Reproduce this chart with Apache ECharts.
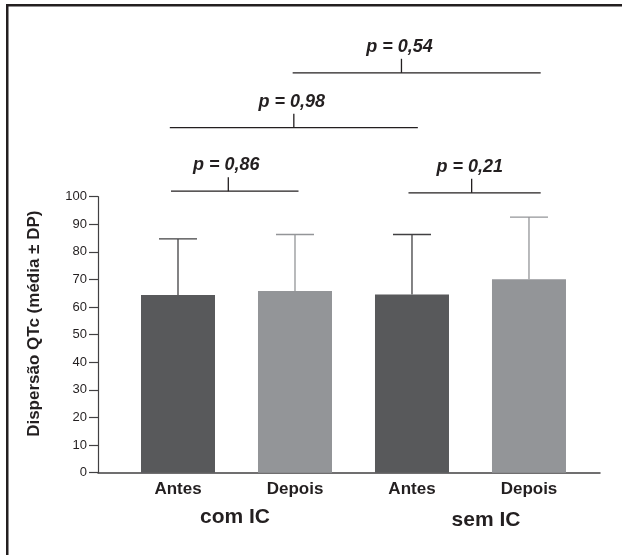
<!DOCTYPE html>
<html><head><meta charset="utf-8">
<script src="https://cdn.jsdelivr.net/npm/echarts@6/dist/echarts.min.js"></script>
<style>html,body{margin:0;padding:0;background:#fff}#c{width:622px;height:555px}</style>
</head><body><div id="c"></div>
<script>
// ---- data ----
const categories = ['Antes', 'Depois', 'Antes', 'Depois'];
const groupLabels = ['com IC', 'sem IC'];
const means = [64.4, 65.8, 64.6, 70.1];
const sds = [20.3, 20.5, 21.7, 22.5];
const yAxisTitle = 'Dispersão QTc (média ± DP)';
const pLabels = ['p = 0,86', 'p = 0,21', 'p = 0,98', 'p = 0,54'];
const bracketStart = [-0.06, 1.97, -0.07, 0.98];
const bracketEnd = [1.03, 3.10, 2.05, 3.10];
const bracketTick = [0.43, 2.51, 0.99, 1.91];
const bracketLevel = [102.0, 101.4, 125.0, 144.9];

const darkC = '#58595b', lightC = '#939598', ink = '#231f20', axisC = '#414042';
const font = 'Liberation Sans, Arial, sans-serif';

const chart = echarts.init(document.getElementById('c'), null, {renderer: 'canvas'});

const barData = means.map((m, i) => [i, m]);
const errData = means.map((m, i) => [i, m, m + sds[i]]);
const brData = pLabels.map((p, i) => [bracketStart[i], bracketLevel[i], bracketEnd[i], bracketTick[i], i]);

const option = {
  backgroundColor: '#fff',
  animation: false,
  grid: {left: 98, right: 22, top: 196.7, bottom: 82.3, containLabel: false},
  xAxis: {
    type: 'value', min: -0.6838, max: 3.607,
    splitLine: {show: false},
    axisTick: {show: false},
    axisLine: {show: true, onZero: false, lineStyle: {color: axisC, width: 1.5}},
    axisLabel: {
      show: true, margin: 8, fontSize: 17, fontWeight: 'bold', color: ink, fontFamily: font,
      showMinLabel: true, showMaxLabel: true,
      formatter: v => (Math.abs(v - Math.round(v)) < 1e-6 && categories[Math.round(v)] !== undefined) ? categories[Math.round(v)] : ''
    }
  },
  yAxis: {
    type: 'value', min: 0, max: 100, interval: 10,
    splitLine: {show: false},
    axisLine: {show: true, onZero: false, lineStyle: {color: axisC, width: 1.2}},
    axisTick: {show: true, length: 9, lineStyle: {color: axisC, width: 1.2}},
    axisLabel: {margin: 11, fontSize: 13, color: ink, fontFamily: font},
    name: yAxisTitle, nameLocation: 'middle', nameGap: 55,
    nameTextStyle: {fontSize: 17, fontWeight: 'bold', color: ink, fontFamily: font, padding: [0, 0, 0, 22]}
  },
  series: [
    {
      type: 'bar', data: barData, barWidth: 74,
      itemStyle: {color: p => p.dataIndex % 2 === 0 ? darkC : lightC}
    },
    {
      type: 'custom', data: errData, clip: false, z: 1,
      encode: {x: 0, y: [1, 2]},
      renderItem: (params, api) => {
        const x = api.value(0);
        const top = api.coord([x, api.value(2)]);
        const base = api.coord([x, api.value(1)]);
        const col = params.dataIndex % 2 === 0 ? axisC : lightC;
        const st = {stroke: col, lineWidth: 1.3};
        return {type: 'group', children: [
          {type: 'line', shape: {x1: top[0], y1: top[1], x2: base[0], y2: base[1]}, style: st},
          {type: 'line', shape: {x1: top[0] - 19, y1: top[1], x2: top[0] + 19, y2: top[1]}, style: st}
        ]};
      }
    },
    {
      type: 'custom', data: brData, clip: false,
      encode: {x: [0, 2], y: 1},
      renderItem: (params, api) => {
        const lvl = api.value(1);
        const a = api.coord([api.value(0), lvl]);
        const b = api.coord([api.value(2), lvl]);
        const t = api.coord([api.value(3), lvl]);
        const st = {stroke: ink, lineWidth: 1.3};
        return {type: 'group', children: [
          {type: 'line', shape: {x1: a[0], y1: a[1], x2: b[0], y2: b[1]}, style: st},
          {type: 'line', shape: {x1: t[0], y1: t[1], x2: t[0], y2: t[1] - 14}, style: st},
          {type: 'text', x: t[0] - 2, y: t[1] - 26, style: {
            text: pLabels[api.value(4)], fill: ink, font: 'italic bold 18px ' + font,
            align: 'center', verticalAlign: 'middle'}}
        ]};
      }
    }
  ],
  graphic: [
    {type: 'rect', shape: {x: 6, y: 4, width: 616, height: 2.5}, style: {fill: ink}, silent: true},
    {type: 'rect', shape: {x: 6, y: 4, width: 2.5, height: 551}, style: {fill: ink}, silent: true},
    {type: 'text', x: 235, y: 517, style: {text: groupLabels[0], fill: ink, font: 'bold 21px ' + font, align: 'center', verticalAlign: 'middle'}},
    {type: 'text', x: 486, y: 520, style: {text: groupLabels[1], fill: ink, font: 'bold 21px ' + font, align: 'center', verticalAlign: 'middle'}}
  ]
};
chart.setOption(option);
</script>
</body></html>
